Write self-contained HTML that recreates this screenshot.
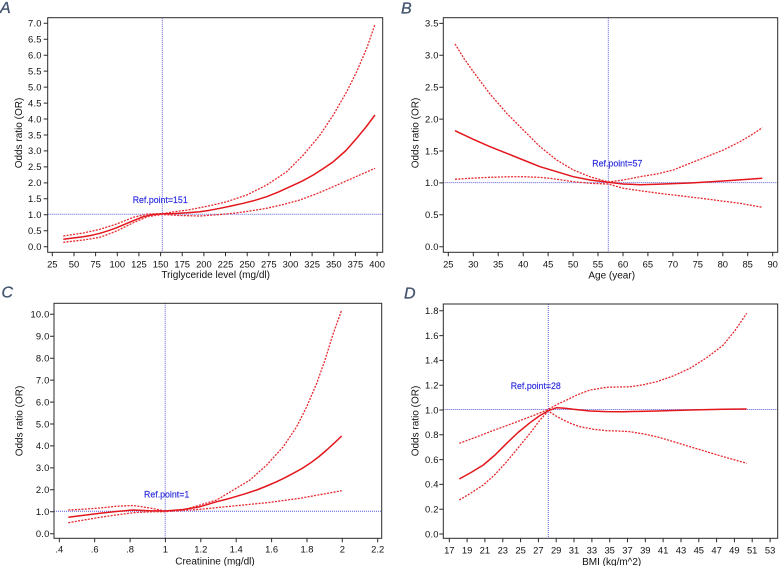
<!DOCTYPE html>
<html><head><meta charset="utf-8"><style>
html,body{margin:0;padding:0;background:#fff;}
svg{display:block;}
text{font-family:"Liberation Sans",Arial,sans-serif;}
.yl{font-size:9.4px;fill:#111;text-anchor:end;letter-spacing:0.2px;}
.xl{font-size:9.4px;fill:#111;text-anchor:middle;}
.tt{font-size:10px;fill:#111;text-anchor:middle;}
.rf{font-size:8.8px;fill:#2a2ae0;stroke:#2a2ae0;stroke-width:0.15px;}
.lt{font-size:16px;font-style:italic;fill:#44546e;stroke:#44546e;stroke-width:0.3px;}
.fr{fill:none;stroke:#2a2a2a;stroke-width:1;}
.tk{fill:none;stroke:#2a2a2a;stroke-width:1;}
.ref{fill:none;stroke:#5a5ad8;stroke-width:1;stroke-dasharray:1 1;}
.m{fill:none;stroke:#e3161c;stroke-width:1.5;stroke-linejoin:round;}
.d{fill:none;stroke:#e82a30;stroke-width:1.3;stroke-dasharray:2 1.3;stroke-linejoin:round;}
</style></head><body>
<svg width="779" height="566" viewBox="0 0 779 566" xmlns="http://www.w3.org/2000/svg">
<rect width="779" height="566" fill="#fff"/>
<defs>
<clipPath id="cA"><rect x="47.7" y="17.7" width="335" height="234.6"/></clipPath>
<clipPath id="cB"><rect x="443.3" y="17.7" width="334.4" height="234.6"/></clipPath>
<clipPath id="cC"><rect x="54" y="303.3" width="327.7" height="235"/></clipPath>
<clipPath id="cD"><rect x="443.3" y="304" width="334.4" height="234.3"/></clipPath>
</defs>

<!-- Panel letters -->
<text class="lt" x="0" y="13">A</text>
<text class="lt" x="401" y="13.5">B</text>
<text class="lt" x="1.5" y="297.5">C</text>
<text class="lt" x="404" y="298.5">D</text>

<!-- ================= PANEL A ================= -->
<g clip-path="url(#cA)">
<path class="ref" d="M162.3 17.7V252.3M47.7 214.3H382.7"/>
<polyline class="d" points="63.3,236 83.3,233 100,229.3 116.7,224 133.3,217.3 148,214 162.3,213.7 176,211.5 188,210 200,207.7 213,205 226.7,201.7 246.7,195 266.7,185 286.7,171.7 303.3,155 320,135 333.3,115 346.7,91.7 356.7,71.7 366.7,48.3 375,24.3"/>
<polyline class="m" points="63.3,239.3 73,238 83.3,236.7 92,235.2 100,233.3 108,230.8 116.7,227.7 125,224.2 133.3,220.7 143.3,216.7 153.3,214.5 162.3,213.9 175,213.5 187,212.8 200,211.7 210,210.2 220,208.3 231,206 243.3,203.3 255,200.3 266.7,196.7 278,192.2 290,186.7 302,181.2 313.3,175 323,168.8 333.3,161.7 346,150.5 356.7,138.3 366,127 375,115"/>
<polyline class="d" points="63.3,242.3 83.3,240 100,237.3 116.7,231 133.3,222.7 148,216.5 162.3,214.5 180,215.5 200,216 216.7,214.8 233.3,213.3 250,211 266.7,208.3 283.3,204.5 300,200 316.7,193.7 333.3,186.7 354,177.5 375,168.3"/>
</g>
<rect class="fr" x="47.7" y="17.7" width="335" height="234.6"/>
<path class="tk" d="M43.7 246.7H47.7M43.7 230.7H47.7M43.7 214.8H47.7M43.7 198.8H47.7M43.7 182.9H47.7M43.7 166.9H47.7M43.7 150.9H47.7M43.7 135H47.7M43.7 119H47.7M43.7 103.1H47.7M43.7 87.1H47.7M43.7 71.1H47.7M43.7 55.2H47.7M43.7 39.2H47.7M43.7 23.3H47.7
M52.3 252.3V256.3M74 252.3V256.3M95.6 252.3V256.3M117.3 252.3V256.3M138.9 252.3V256.3M160.6 252.3V256.3M182.2 252.3V256.3M203.9 252.3V256.3M225.5 252.3V256.3M247.2 252.3V256.3M268.8 252.3V256.3M290.5 252.3V256.3M312.1 252.3V256.3M333.8 252.3V256.3M355.4 252.3V256.3M377.1 252.3V256.3"/>
<text class="yl" x="41.7" y="250">0.0</text>
<text class="yl" x="41.7" y="234">0.5</text>
<text class="yl" x="41.7" y="218.1">1.0</text>
<text class="yl" x="41.7" y="202.1">1.5</text>
<text class="yl" x="41.7" y="186.2">2.0</text>
<text class="yl" x="41.7" y="170.2">2.5</text>
<text class="yl" x="41.7" y="154.2">3.0</text>
<text class="yl" x="41.7" y="138.3">3.5</text>
<text class="yl" x="41.7" y="122.3">4.0</text>
<text class="yl" x="41.7" y="106.4">4.5</text>
<text class="yl" x="41.7" y="90.4">5.0</text>
<text class="yl" x="41.7" y="74.4">5.5</text>
<text class="yl" x="41.7" y="58.5">6.0</text>
<text class="yl" x="41.7" y="42.5">6.5</text>
<text class="yl" x="41.7" y="26.6">7.0</text>
<text class="xl" x="52.3" y="267.6">25</text>
<text class="xl" x="74" y="267.6">50</text>
<text class="xl" x="95.6" y="267.6">75</text>
<text class="xl" x="117.3" y="267.6">100</text>
<text class="xl" x="138.9" y="267.6">125</text>
<text class="xl" x="160.6" y="267.6">150</text>
<text class="xl" x="182.2" y="267.6">175</text>
<text class="xl" x="203.9" y="267.6">200</text>
<text class="xl" x="225.5" y="267.6">225</text>
<text class="xl" x="247.2" y="267.6">250</text>
<text class="xl" x="268.8" y="267.6">275</text>
<text class="xl" x="290.5" y="267.6">300</text>
<text class="xl" x="312.1" y="267.6">325</text>
<text class="xl" x="333.8" y="267.6">350</text>
<text class="xl" x="355.4" y="267.6">375</text>
<text class="xl" x="377.1" y="267.6">400</text>
<text class="tt" x="215.7" y="277.8">Triglyceride level (mg/dl)</text>
<text class="tt" transform="translate(21.8,133) rotate(-90)">Odds ratio (OR)</text>
<text class="rf" x="132.7" y="203">Ref.point=151</text>

<!-- ================= PANEL B ================= -->
<g clip-path="url(#cB)">
<path class="ref" d="M608.3 17.7V252.3M443.3 182.6H777.7"/>
<polyline class="d" points="455,44 464,58.5 473.3,71.7 490,94 506.7,113.3 523.3,130 540,146.7 556.7,160 573.3,170 590,176.7 608.3,182 623.3,180 640,176.7 656.7,174 673.3,170 690,163.3 706.7,156.7 723.3,150 740,141.7 751,135.2 762.3,127.7"/>
<polyline class="m" points="455,130.7 473.3,139.3 490,146.7 506.7,153.3 523.3,160 540,166.7 556.7,171.7 573.3,176.7 590,180 608.3,182.3 623.3,184 640,184.7 656.7,184.3 690,183 723.3,181 762.3,178.3"/>
<polyline class="d" points="455,179.3 472,178.2 490,177.3 506.7,176.8 523.3,176.7 537,177.2 550,178.3 562,180 573.3,181.7 590,183.3 608.3,184 623.3,188.3 640,190.7 656.7,193 673.3,195 690,197 706.7,199 723.3,201.2 740,203.3 762.3,207.3"/>
</g>
<rect class="fr" x="443.3" y="17.7" width="334.4" height="234.6"/>
<path class="tk" d="M439.3 246.7H443.3M439.3 214.8H443.3M439.3 182.9H443.3M439.3 151H443.3M439.3 119.1H443.3M439.3 87.2H443.3M439.3 55.3H443.3M439.3 23.4H443.3
M448.3 252.3V256.3M473.3 252.3V256.3M498.2 252.3V256.3M523.2 252.3V256.3M548.1 252.3V256.3M573.1 252.3V256.3M598 252.3V256.3M623 252.3V256.3M647.9 252.3V256.3M672.9 252.3V256.3M697.8 252.3V256.3M722.8 252.3V256.3M747.7 252.3V256.3M772.7 252.3V256.3"/>
<text class="yl" x="438.7" y="250">0.0</text>
<text class="yl" x="438.7" y="218.1">0.5</text>
<text class="yl" x="438.7" y="186.2">1.0</text>
<text class="yl" x="438.7" y="154.3">1.5</text>
<text class="yl" x="438.7" y="122.4">2.0</text>
<text class="yl" x="438.7" y="90.5">2.5</text>
<text class="yl" x="438.7" y="58.6">3.0</text>
<text class="yl" x="438.7" y="26.7">3.5</text>
<text class="xl" x="448.3" y="267.6">25</text>
<text class="xl" x="473.3" y="267.6">30</text>
<text class="xl" x="498.2" y="267.6">35</text>
<text class="xl" x="523.2" y="267.6">40</text>
<text class="xl" x="548.1" y="267.6">45</text>
<text class="xl" x="573.1" y="267.6">50</text>
<text class="xl" x="598" y="267.6">55</text>
<text class="xl" x="623" y="267.6">60</text>
<text class="xl" x="647.9" y="267.6">65</text>
<text class="xl" x="672.9" y="267.6">70</text>
<text class="xl" x="697.8" y="267.6">75</text>
<text class="xl" x="722.8" y="267.6">80</text>
<text class="xl" x="747.7" y="267.6">85</text>
<text class="xl" x="772.7" y="267.6">90</text>
<text class="tt" x="611.7" y="278.3">Age (year)</text>
<text class="tt" transform="translate(418.5,133) rotate(-90)">Odds ratio (OR)</text>
<text class="rf" x="592.3" y="166.3">Ref.point=57</text>

<!-- ================= PANEL C ================= -->
<g clip-path="url(#cC)">
<path class="ref" d="M165.2 303.3V538.3M54 511.2H381.7"/>
<polyline class="d" points="68.3,510 84,509.2 100,508 116,506.3 133.3,505.5 150,508 165,511 183.3,510 200,505 216.7,500 233.3,490 250,480 266.7,465 283.3,446.7 296.7,426.7 306.7,406.7 316.7,383.3 325,360 333.3,333.3 341.7,310"/>
<polyline class="m" points="68.3,517.3 84,515.3 100,513.3 116,511.5 133.3,510 150,510.8 165,511 183.3,509.5 200,506.7 208,504.3 216.7,501.7 225,499.6 233.3,497.3 245,493.8 256.7,490 266.7,486 276.7,481.7 285,477.7 293.3,473.3 302,468.5 310,463.3 318.5,457 326.7,450 334,443.3 341.7,436"/>
<polyline class="d" points="68.3,522.7 84,520 100,517.3 116,515 133.3,512.7 150,511.8 165,511.7 183,510.5 200,509.3 233.3,506 266.7,502.7 300,498.3 341.7,490.7"/>
</g>
<rect class="fr" x="54" y="303.3" width="327.7" height="235"/>
<path class="tk" d="M50 533.7H54M50 511.8H54M50 489.8H54M50 467.9H54M50 445.9H54M50 424H54M50 402.1H54M50 380.1H54M50 358.2H54M50 336.2H54M50 314.3H54
M59.3 538.3V542.3M94.7 538.3V542.3M130.1 538.3V542.3M165.4 538.3V542.3M200.8 538.3V542.3M236.2 538.3V542.3M271.6 538.3V542.3M307 538.3V542.3M342.3 538.3V542.3M377.7 538.3V542.3"/>
<text class="yl" x="49.5" y="537">0.0</text>
<text class="yl" x="49.5" y="515.1">1.0</text>
<text class="yl" x="49.5" y="493.1">2.0</text>
<text class="yl" x="49.5" y="471.2">3.0</text>
<text class="yl" x="49.5" y="449.2">4.0</text>
<text class="yl" x="49.5" y="427.3">5.0</text>
<text class="yl" x="49.5" y="405.4">6.0</text>
<text class="yl" x="49.5" y="383.4">7.0</text>
<text class="yl" x="49.5" y="361.5">8.0</text>
<text class="yl" x="49.5" y="339.5">9.0</text>
<text class="yl" x="49.5" y="317.6">10.0</text>
<text class="xl" x="59.3" y="552.6">.4</text>
<text class="xl" x="94.7" y="552.6">.6</text>
<text class="xl" x="130.1" y="552.6">.8</text>
<text class="xl" x="165.4" y="552.6">1</text>
<text class="xl" x="200.8" y="552.6">1.2</text>
<text class="xl" x="236.2" y="552.6">1.4</text>
<text class="xl" x="271.6" y="552.6">1.6</text>
<text class="xl" x="307" y="552.6">1.8</text>
<text class="xl" x="342.3" y="552.6">2</text>
<text class="xl" x="377.7" y="552.6">2.2</text>
<text class="tt" x="215" y="564.3">Creatinine (mg/dl)</text>
<text class="tt" transform="translate(22.5,421) rotate(-90)">Odds ratio (OR)</text>
<text class="rf" x="144" y="497.3">Ref.point=1</text>

<!-- ================= PANEL D ================= -->
<g clip-path="url(#cD)">
<path class="ref" d="M548.3 304V538.3M443.3 409.5H777.7"/>
<polyline class="d" points="459.3,443.3 475,437.5 490,431.7 507,425.5 523.3,419.3 536,414.5 548.3,409.3 557,404.5 566.7,400 578,394.5 590,390 606.7,387.3 618,387 630,386.8 643,384.8 656.7,381.7 673,376 690,368.3 707,357.5 723.3,345 735,330.5 746.7,313.3"/>
<polyline class="m" points="459.3,479 471,472.5 483.3,465 495,455 506.7,443.3 518,432.5 530,422.7 540,415.5 548.3,410.7 556.7,407.7 565,408.2 573.3,409.3 590,411 606.7,411.6 623.3,411.7 656.7,411 690,410 723.3,409.3 746.7,409"/>
<polyline class="d" points="459.3,500 471,493 483.3,485 495,474.5 506.7,461.7 518,448 530,433.3 540,420 548.3,411 556,416 563.3,420 571,423.5 580,426.7 593,429.2 606.7,430.7 618,431 630,431.7 643,433.8 656.7,436.7 673,441.5 690,446.7 707,451.8 723.3,456.7 746.7,463.3"/>
</g>
<rect class="fr" x="443.3" y="304" width="334.4" height="234.3"/>
<path class="tk" d="M439.3 534H443.3M439.3 509.2H443.3M439.3 484.4H443.3M439.3 459.6H443.3M439.3 434.8H443.3M439.3 410H443.3M439.3 385.2H443.3M439.3 360.4H443.3M439.3 335.6H443.3M439.3 310.8H443.3
M449.3 538.3V542.3M467.1 538.3V542.3M484.9 538.3V542.3M502.8 538.3V542.3M520.6 538.3V542.3M538.4 538.3V542.3M556.2 538.3V542.3M574 538.3V542.3M591.9 538.3V542.3M609.7 538.3V542.3M627.5 538.3V542.3M645.3 538.3V542.3M663.1 538.3V542.3M681 538.3V542.3M698.8 538.3V542.3M716.6 538.3V542.3M734.4 538.3V542.3M752.2 538.3V542.3M770.1 538.3V542.3"/>
<text class="yl" x="438.7" y="537.3">0.0</text>
<text class="yl" x="438.7" y="512.5">0.2</text>
<text class="yl" x="438.7" y="487.7">0.4</text>
<text class="yl" x="438.7" y="462.9">0.6</text>
<text class="yl" x="438.7" y="438.1">0.8</text>
<text class="yl" x="438.7" y="413.3">1.0</text>
<text class="yl" x="438.7" y="388.5">1.2</text>
<text class="yl" x="438.7" y="363.7">1.4</text>
<text class="yl" x="438.7" y="338.9">1.6</text>
<text class="yl" x="438.7" y="314.1">1.8</text>
<text class="xl" x="449.3" y="553.3">17</text>
<text class="xl" x="467.1" y="553.3">19</text>
<text class="xl" x="484.9" y="553.3">21</text>
<text class="xl" x="502.8" y="553.3">23</text>
<text class="xl" x="520.6" y="553.3">25</text>
<text class="xl" x="538.4" y="553.3">27</text>
<text class="xl" x="556.2" y="553.3">29</text>
<text class="xl" x="574" y="553.3">31</text>
<text class="xl" x="591.9" y="553.3">33</text>
<text class="xl" x="609.7" y="553.3">35</text>
<text class="xl" x="627.5" y="553.3">37</text>
<text class="xl" x="645.3" y="553.3">39</text>
<text class="xl" x="663.1" y="553.3">41</text>
<text class="xl" x="681" y="553.3">43</text>
<text class="xl" x="698.8" y="553.3">45</text>
<text class="xl" x="716.6" y="553.3">47</text>
<text class="xl" x="734.4" y="553.3">49</text>
<text class="xl" x="752.2" y="553.3">51</text>
<text class="xl" x="770.1" y="553.3">53</text>
<text class="tt" x="611.7" y="565">BMI (kg/m^2)</text>
<text class="tt" transform="translate(418.5,421) rotate(-90)">Odds ratio (OR)</text>
<text class="rf" x="510.7" y="389">Ref.point=28</text>
</svg>
</body></html>
